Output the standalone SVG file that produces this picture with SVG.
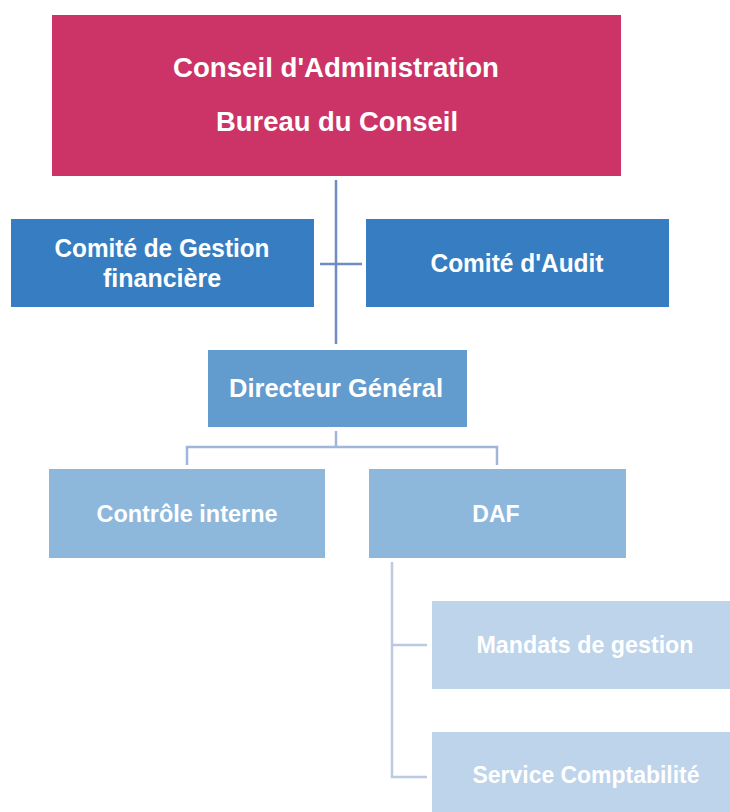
<svg xmlns="http://www.w3.org/2000/svg" width="730" height="812" viewBox="0 0 730 812">
<style>
text{font-family:"Liberation Sans",Arial,sans-serif;font-weight:bold;fill:#ffffff;text-anchor:middle}
.c1{stroke:#6F8DC2;stroke-width:2.5;fill:none}
.c2{stroke:#9FB5D9;stroke-width:2.5;fill:none}
.c3{stroke:#BCC9E2;stroke-width:2.5;fill:none}
</style>
<rect width="730" height="812" fill="#ffffff"/>
<g id="connectors">
<path class="c1" d="M336 180V344M320 264H362"/>
<path class="c2" d="M336 431V447M187 465V447H497V465"/>
<path class="c3" d="M392 562V777H427M392 645H427"/>
</g>
<g id="conseil">
<rect x="52" y="15" width="569" height="161" fill="#CC3366"/>
<text x="336" y="77" font-size="27" textLength="326" lengthAdjust="spacingAndGlyphs">Conseil d'Administration</text>
<text x="337" y="131" font-size="27" textLength="242" lengthAdjust="spacingAndGlyphs">Bureau du Conseil</text>
</g>
<g id="comite-gestion">
<rect x="11" y="219" width="303" height="88" fill="#367EC1"/>
<text x="162" y="257" font-size="25" textLength="215" lengthAdjust="spacingAndGlyphs">Comité de Gestion</text>
<text x="162" y="287" font-size="25">financière</text>
</g>
<g id="comite-audit">
<rect x="366" y="219" width="303" height="88" fill="#367EC1"/>
<text x="517" y="272" font-size="25" textLength="173" lengthAdjust="spacingAndGlyphs">Comité d'Audit</text>
</g>
<g id="directeur">
<rect x="208" y="350" width="259" height="77" fill="#629BCD"/>
<text x="336" y="397" font-size="25" textLength="214" lengthAdjust="spacingAndGlyphs">Directeur Général</text>
</g>
<g id="controle">
<rect x="49" y="469" width="276" height="89" fill="#8EB7DC"/>
<text x="187" y="522" font-size="24" textLength="181" lengthAdjust="spacingAndGlyphs">Contrôle interne</text>
</g>
<g id="daf">
<rect x="369" y="469" width="257" height="89" fill="#8EB7DC"/>
<text x="496" y="522" font-size="23">DAF</text>
</g>
<g id="mandats">
<rect x="432" y="601" width="298" height="88" fill="#BDD4EA"/>
<text x="585" y="653" font-size="23" textLength="217" lengthAdjust="spacingAndGlyphs">Mandats de gestion</text>
</g>
<g id="service">
<rect x="432" y="732" width="298" height="80" fill="#BDD4EA"/>
<text x="586" y="783" font-size="23" textLength="227" lengthAdjust="spacingAndGlyphs">Service Comptabilité</text>
</g>
</svg>
